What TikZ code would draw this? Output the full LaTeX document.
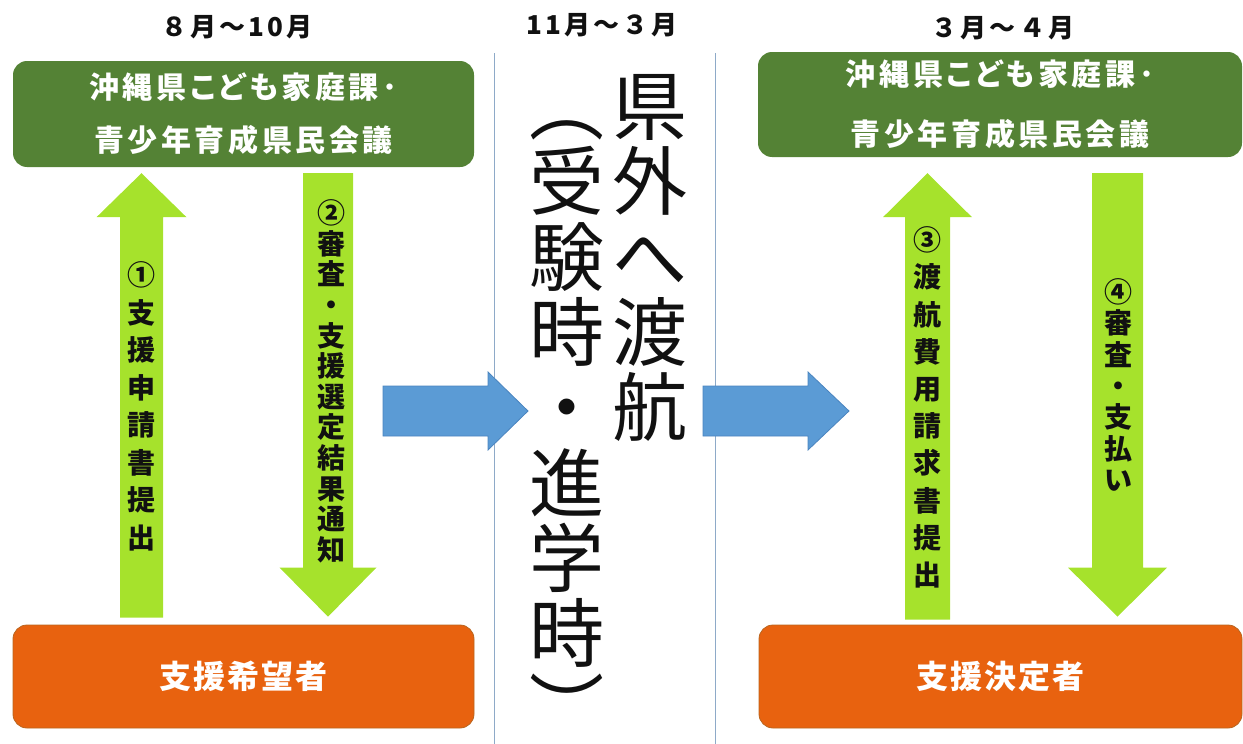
\documentclass[tikz,border=0pt]{standalone}
\usepackage{fontspec}
\usepackage{xcolor}
\usepackage{tikz}
\usetikzlibrary{calc}
\setmainfont{Noto Sans CJK JP}
\newfontfamily\jpfont{Noto Sans CJK JP}
\definecolor{ink}{HTML}{111111}
\definecolor{orggreen}{HTML}{548235}
\definecolor{aplorange}{HTML}{E8620F}
\definecolor{apledge}{HTML}{B9651F}
\definecolor{flowlime}{HTML}{A6E22C}
\definecolor{flowblue}{HTML}{5B9BD5}
\definecolor{flowedge}{HTML}{4A84BF}
\definecolor{sepline}{HTML}{8EAAC8}
\tikzset{
  orgbox/.style={fill=orggreen, rounded corners=14pt, text=white, align=center, inner sep=0pt,
    font=\jpfont\bfseries\fontsize{30}{#1}\selectfont\addfontfeature{LetterSpace=12,RawFeature=+palt}},
  aplbox/.style={fill=aplorange, draw=apledge, line width=0.8pt, rounded corners=14pt, text=white, inner sep=0pt,
    font=\jpfont\bfseries\fontsize{32}{38}\selectfont\addfontfeature{LetterSpace=6}},
  hdr/.style={text=ink, inner sep=0pt, font=\jpfont\bfseries\fontsize{26}{30}\selectfont\addfontfeature{LetterSpace=12}},
  vch/.style={text=ink, inner sep=0pt, anchor=base, font=\jpfont\bfseries\fontsize{28}{30}\selectfont},
  bigch/.style={text=ink, inner sep=0pt, anchor=base, font=\jpfont\fontsize{75}{78}\selectfont},
  bigparen/.style={bigch, anchor=center, rotate=-90},
  sep/.style={draw=sepline, line width=1pt},
  upflow/.style={fill=flowlime},
  goflow/.style={fill=flowblue, draw=flowedge, line width=0.8pt},
}
% block arrow: style, tail, tip, half shaft, half head, head length
\newcommand{\blockarrow}[6]{%
  \coordinate (ba) at ($(#3)!#6!(#2)$);
  \path[#1] ($(#2)!#4!90:(#3)$) -- ($(ba)!#4!90:(#3)$) -- ($(ba)!#5!90:(#3)$) -- (#3)
    -- ($(ba)!#5!-90:(#3)$) -- ($(ba)!#4!-90:(#3)$) -- ($(#2)!#4!-90:(#3)$) -- cycle;
}

\begin{document}
\begin{tikzpicture}[x=1pt, y=-1pt]
  \useasboundingbox (0,0) rectangle (1243,744);
  % period columns
  \draw[sep] (494,53) -- (494,744);
  \draw[sep] (715,53) -- (715,744);
  \node[hdr] (hdrA) at (237,27) {８月～10月};
  \node[hdr] (hdrB) at (602,25) {11月～３月};
  \node[hdr] (hdrC) at (1003,28) {３月～４月};

  % offices and applicants
  \node[orgbox=53, minimum width=461pt, minimum height=106pt] (orgA) at (243.5,114)
    {沖縄県こども家庭課･\\青少年育成県民会議};
  \node[orgbox=60, minimum width=484pt, minimum height=105pt] (orgB) at (1000,104.5)
    {沖縄県こども家庭課･\\青少年育成県民会議};
  \node[aplbox, minimum width=461pt, minimum height=103pt] (aplA) at (243.5,676.5) {支援希望者};
  \node[aplbox, minimum width=483pt, minimum height=103pt] (aplB) at (1000.5,676.5) {支援決定者};

  % steps
  \coordinate (f1tail) at ($(141.5,0 |- aplA.north)+(0,-7)$);
  \coordinate (f1tip) at ($(141.5,0 |- orgA.south)+(0,6)$);
  \coordinate (f2tail) at ($(328,0 |- orgA.south)+(0,6)$);
  \coordinate (f2tip) at ($(328,0 |- aplA.north)+(0,-8)$);
  \coordinate (f3tail) at ($(927.5,0 |- aplB.north)+(0,-5)$);
  \coordinate (f3tip) at ($(927.5,0 |- orgB.south)+(0,16)$);
  \coordinate (f4tail) at ($(1117.5,0 |- orgB.south)+(0,16)$);
  \coordinate (f4tip) at ($(1117.5,0 |- aplB.north)+(0,-8)$);
  \blockarrow{upflow}{f1tail}{f1tip}{21.5pt}{45pt}{44pt}
  \blockarrow{upflow}{f2tail}{f2tip}{25pt}{48.5pt}{49pt}
  \blockarrow{upflow}{f3tail}{f3tip}{22.5pt}{44.5pt}{44pt}
  \blockarrow{upflow}{f4tail}{f4tip}{25.5pt}{49.5pt}{49pt}

  % to the next period
  \coordinate (g1tail) at (383,411);
  \coordinate (g1tip) at (528,411);
  \coordinate (g2tail) at (703,411);
  \coordinate (g2tip) at (849,411);
  \blockarrow{goflow}{g1tail}{g1tip}{25pt}{39pt}{40pt}
  \blockarrow{goflow}{g2tail}{g2tip}{25pt}{39pt}{41pt}

  % vertical step labels
  \foreach \nm/\cx/\cy/\pitch/\chars in {
      lblA/141.5/275/37.5/{①,支,援,申,請,書,提,出},
      lblB/331/213/30.6/{②,審,査,・,支,援,選,定,結,果,通,知},
      lblC/927.5/240/37.2/{③,渡,航,費,用,請,求,書,提,出},
      lblD/1118/292/31.3/{④,審,査,・,支,払,い}}
    \foreach \ch [count=\i] in \chars
      \node[vch] (\nm-\i) at (\cx,{\cy+\pitch*(\i-1)+10.6}) {\ch};

  % trip text
  \foreach \nm/\cx/\first/\chars in {
      tripA/650/0/{県,外,へ,渡,航},
      tripB/567/1/{受,験,時,・,進,学,時}}
    \foreach \ch [count=\i from \first] in \chars
      \node[bigch] (\nm-\i) at (\cx,{106+75.3*\i+28.5}) {\ch};
  \node[bigparen] (tripOpen) at (567,106) {（};
  \node[bigparen] (tripClose) at (567,708) {）};
\end{tikzpicture}
\end{document}
